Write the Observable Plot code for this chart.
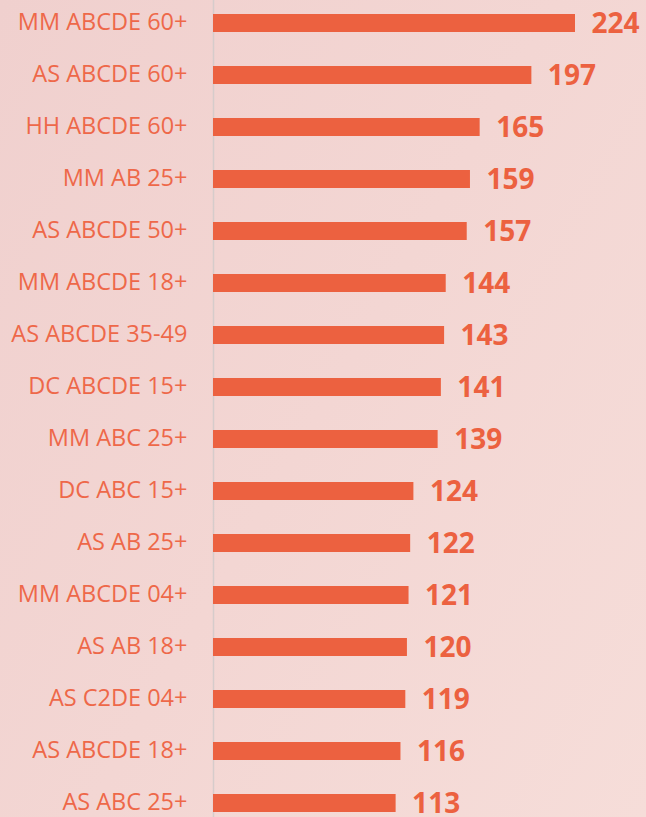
<!DOCTYPE html>
<html>
<head>
<meta charset="utf-8">
<script src="https://cdn.jsdelivr.net/npm/d3@7"></script>
<script src="https://cdn.jsdelivr.net/npm/@observablehq/plot@0.6"></script>
<style>
  html, body { margin: 0; padding: 0; }
  body {
    width: 646px; height: 817px; overflow: hidden;
    background: linear-gradient(120deg, #F0D0CE 0%, #F3D6D3 50%, #F6DDD9 100%);
  }
  #chart svg { display: block; }
</style>
</head>
<body>
<div id="chart"></div>
<script>
const categories = [
  "MM ABCDE 60+", "AS ABCDE 60+", "HH ABCDE 60+", "MM AB 25+",
  "AS ABCDE 50+", "MM ABCDE 18+", "AS ABCDE 35-49", "DC ABCDE 15+",
  "MM ABC 25+", "DC ABC 15+", "AS AB 25+", "MM ABCDE 04+",
  "AS AB 18+", "AS C2DE 04+", "AS ABCDE 18+", "AS ABC 25+"
];
const values = [224, 197, 165, 159, 157, 144, 143, 141, 139, 124, 122, 121, 120, 119, 116, 113];

const data = categories.map((c, i) => ({category: c, value: values[i]}));

const barColor = "#EC6140";
const labelColor = "#EE6849";

const chart = Plot.plot({
  width: 646,
  height: 817,
  margin: 0,
  style: {background: "transparent", fontFamily: "'Open Sans', sans-serif"},
  x: {domain: [0, 224], range: [213, 575], axis: null},
  y: {domain: categories, range: [-4.07, 830], paddingInner: 0.655, paddingOuter: 0.3275, axis: null},
  marks: [
    Plot.ruleX([0], {stroke: "#D6CCCB", strokeWidth: 1.5}),
    Plot.barX(data, {x: "value", y: "category", fill: barColor}),
    Plot.text(data, {x: 0, y: "category", text: "category", textAnchor: "end", dx: -26, dy: -1, fill: labelColor, fontSize: 23.5}),
    Plot.text(data, {x: "value", y: "category", text: d => String(d.value), textAnchor: "start", dx: 16, dy: 1, fill: barColor, fontSize: 28, fontWeight: "bold"})
  ]
});
document.getElementById("chart").appendChild(chart);
</script>
</body>
</html>
